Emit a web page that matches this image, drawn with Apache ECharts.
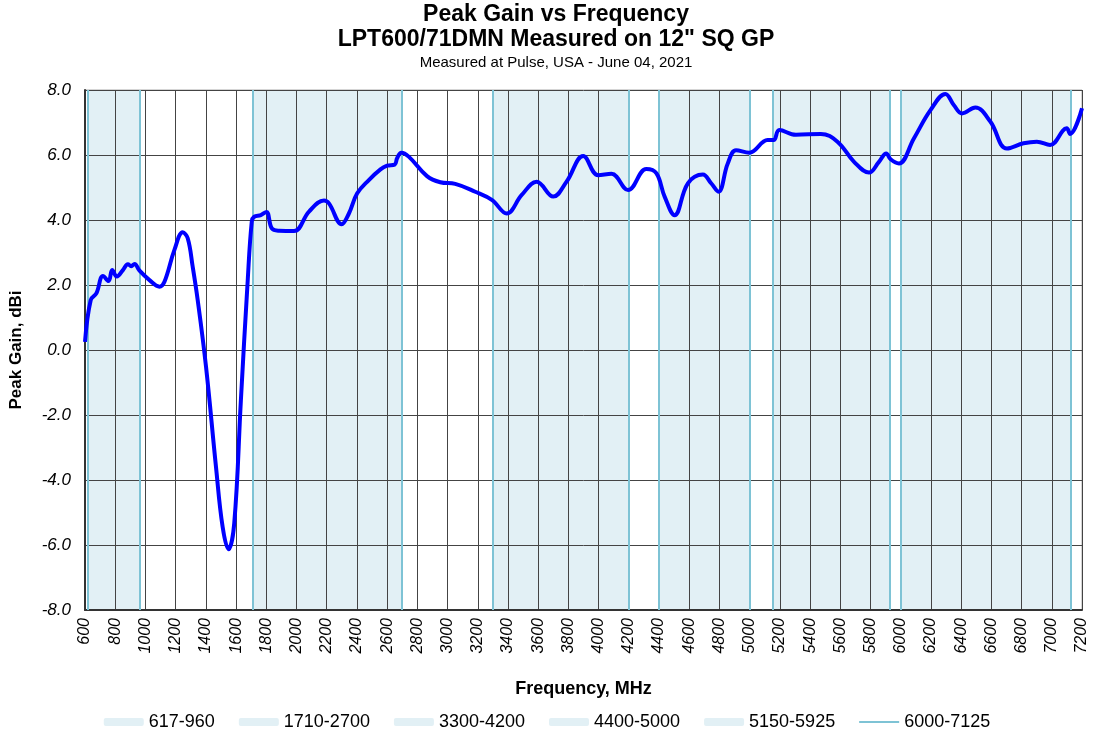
<!DOCTYPE html>
<html>
<head>
<meta charset="utf-8">
<script src="https://cdn.jsdelivr.net/npm/echarts@6/dist/echarts.min.js"></script>
<style>
  html, body { margin: 0; padding: 0; background: #fff; }
  #chart { width: 1094px; height: 736px; }
</style>
</head>
<body>
<div id="chart"></div>
<script>
var freqs = [600, 638, 675, 719, 756, 780, 811, 851, 884, 906, 928, 961, 1027, 1093, 1126, 1192, 1247, 1280,
  1313, 1346, 1401, 1467, 1511, 1550, 1588, 1632, 1676, 1704, 1720, 1764, 1801, 1837, 1885, 1984, 2083,
  2182, 2215, 2299, 2347, 2402, 2479, 2556, 2600, 2651, 2666, 2694, 2743, 2864, 2952, 3051, 3183, 3293,
  3392, 3491, 3590, 3700, 3788, 3898, 3997, 4085, 4195, 4316, 4382, 4437, 4503, 4591, 4690, 4745, 4793,
  4855, 4910, 4998, 5119, 5159, 5196, 5306, 5471, 5581, 5691, 5790, 5856, 5904, 5933, 5988, 6087, 6197,
  6296, 6351, 6406, 6494, 6593, 6703, 6813, 6901, 6989, 7099, 7121, 7200];
var gains = [0.25, 1.54, 1.74, 2.28, 2.12, 2.46, 2.26, 2.46, 2.64, 2.58, 2.65, 2.44, 2.15, 1.95, 2.1, 3.08, 3.62, 3.44,
  2.56, 1.54, -0.51, -3.59, -5.44, -6.13, -5.33, -1.54, 2.05, 3.95, 4.1, 4.15, 4.25, 3.74, 3.67, 3.66, 4.26,
  4.6, 4.51, 3.87, 4.2, 4.82, 5.23, 5.56, 5.67, 5.71, 5.9, 6.07, 5.95, 5.35, 5.16, 5.11, 4.87, 4.62,
  4.2, 4.77, 5.18, 4.72, 5.18, 5.97, 5.38, 5.42, 4.92, 5.57, 5.44, 4.72, 4.15, 5.13, 5.4, 5.13, 4.87,
  5.74, 6.15, 6.07, 6.46, 6.46, 6.77, 6.62, 6.65, 6.41, 5.79, 5.46, 5.79, 6.05, 5.87, 5.74, 6.51, 7.38,
  7.88, 7.54, 7.28, 7.46, 7.03, 6.2, 6.36, 6.41, 6.31, 6.82, 6.65, 7.44];

// frequency bands (MHz)
var bandStart = [617, 1710, 3300, 4400, 5150, 6000];
var bandEnd = [960, 2700, 4200, 5000, 5925, 7125];

var font = 'Liberation Sans, Arial, sans-serif';
var bandFill = '#e2f0f5';
var bandEdge = '#7ec3d5';
var chart = echarts.init(document.getElementById('chart'));

var curve = freqs.map(function (f, i) { return [f, gains[i]]; });

var series = [];
var legendData = [];
var edges = [];
bandStart.forEach(function (s, i) {
  var name = s + '-' + bandEnd[i];
  var last = i === bandStart.length - 1;
  legendData.push(last ? { name: name, icon: 'path://M0,0H40V2H0Z' } : { name: name, icon: 'roundRect' });
  edges.push({ xAxis: s }, { xAxis: bandEnd[i] });
  series.push({
    name: name,
    type: 'line',
    data: [],
    symbol: 'none',
    z: 1,
    color: last ? bandEdge : bandFill,
    lineStyle: { color: last ? bandEdge : bandFill, width: 2 },
    markArea: {
      silent: true,
      itemStyle: { color: bandFill },
      data: [[{ xAxis: s }, { xAxis: bandEnd[i] }]]
    }
  });
});

// band edge lines, above the grid
series.push({
  name: 'edges',
  type: 'line',
  data: [],
  z: 6,
  markLine: {
    silent: true,
    symbol: 'none',
    label: { show: false },
    lineStyle: { color: bandEdge, width: 2, type: 'solid' },
    data: edges
  }
});

series.push({
  name: 'Peak Gain',
  type: 'line',
  data: curve,
  symbol: 'none',
  smooth: 0.4,
  z: 10,
  lineStyle: { color: '#0000ff', width: 4 }
});

var option = {
  animation: false,
  textStyle: { fontFamily: font },
  title: [
    { text: 'Peak Gain vs Frequency', left: 551, textAlign: 'center', top: -2,
      textStyle: { fontSize: 23, fontWeight: 'bold', color: '#000', fontFamily: font } },
    { text: 'LPT600/71DMN Measured on 12" SQ GP', left: 551, textAlign: 'center', top: 23,
      textStyle: { fontSize: 23, fontWeight: 'bold', color: '#000', fontFamily: font } },
    { text: 'Measured at Pulse, USA - June 04, 2021', left: 551, textAlign: 'center', top: 50,
      textStyle: { fontSize: 15, fontWeight: 'normal', color: '#000', fontFamily: font } }
  ],
  legend: {
    data: legendData,
    bottom: 0,
    left: 'center',
    itemWidth: 40,
    itemHeight: 8,
    itemGap: 24,
    textStyle: { fontSize: 18, color: '#000', fontFamily: font }
  },
  grid: {
    left: 82, right: 12, top: 90, bottom: 126,
    show: true, borderColor: '#aaa', borderWidth: 1
  },
  xAxis: {
    type: 'value',
    min: 600, max: 7200, interval: 200,
    z: 4,
    name: 'Frequency, MHz',
    nameLocation: 'middle',
    nameGap: 70,
    nameTextStyle: { fontSize: 18, fontWeight: 'bold', color: '#000', fontFamily: font },
    axisLine: { show: true, onZero: false, lineStyle: { color: '#333', width: 2 } },
    axisTick: { show: false },
    axisLabel: {
      rotate: 90, fontSize: 16, fontStyle: 'italic', color: '#000', margin: 8, fontFamily: font,
      formatter: function (v) { return String(v); }
    },
    splitLine: { show: true, lineStyle: { color: '#444', width: 1 } }
  },
  yAxis: {
    type: 'value',
    min: -8, max: 8, interval: 2,
    z: 4,
    name: 'Peak Gain, dBi',
    nameLocation: 'middle',
    nameGap: 60,
    nameTextStyle: { fontSize: 17, fontWeight: 'bold', color: '#000', fontFamily: font },
    axisLine: { show: true, lineStyle: { color: '#333', width: 2 } },
    axisTick: { show: false },
    axisLabel: {
      fontSize: 17, fontStyle: 'italic', color: '#000', margin: 14, fontFamily: font,
      formatter: function (v) { return v.toFixed(1); }
    },
    splitLine: { show: true, lineStyle: { color: '#444', width: 1 } }
  },
  series: series
};

chart.setOption(option);
</script>
</body>
</html>
